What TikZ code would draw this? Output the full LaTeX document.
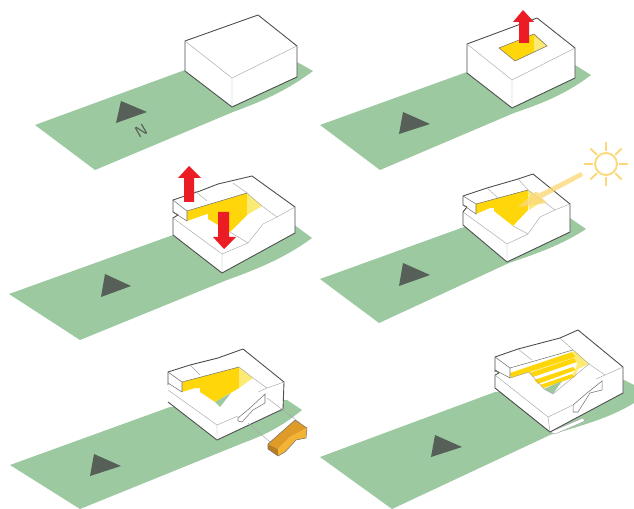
\documentclass[tikz,border=0pt]{standalone}
\usepackage{xcolor}
\usetikzlibrary{calc}
\definecolor{lawngreen}{HTML}{9DC9A1}
\definecolor{markgray}{HTML}{565F58}
\definecolor{voidyellow}{HTML}{FFD60A}
\definecolor{paleyellow}{HTML}{FBEA73}
\definecolor{sunyellow}{HTML}{FBD97A}
\definecolor{liftred}{HTML}{EC1C24}
\definecolor{blocktop}{HTML}{E09A28}
\definecolor{blockside}{HTML}{B97C1E}
\definecolor{blockface}{HTML}{F4B433}
\begin{document}
\begin{tikzpicture}[
  x=0.02cm, y=-0.02cm,
  lawn/.style={fill=lawngreen, draw=none},
  northmark/.style={fill=markgray, draw=none},
  mass/.style={fill=white, draw=black!70, line width=0.5pt, line join=round},
  hairline/.style={draw=black!35, line width=0.25pt},
  edgeline/.style={draw=black!55, line width=0.3pt},
  voidfill/.style={fill=voidyellow, draw=none},
  voidpale/.style={fill=paleyellow, draw=none},
  lift/.style={fill=liftred, draw=none},
  sunray/.style={draw=sunyellow, line width=1.1pt},
]
\useasboundingbox (0,0) rectangle (634,509);

\fill[lawn] (35,125) -- (185,70) -- (297,62) -- (313,71) .. controls (285,92) and (260,102) .. (233,112) -- (95,170) -- cycle;
\fill[northmark] (121,101) -- (147,112) -- (116,123) -- cycle;
\node[rotate=30, text=markgray, font=\sffamily\small, inner sep=0pt] (north) at (141,131) {N};
\draw[mass, fill=white] (185,41) -- (258,15) -- (297,46) -- (297,77) -- (232,107) -- (185,71) -- cycle;
\draw[hairline] (185,41) -- (232,78) -- (297,46) (232,78) -- (232,107);

\fill[lawn] (320,125) -- (467,72) -- (575,65) -- (591,75) .. controls (565,95) and (540,104) .. (514,113) -- (380,170) -- cycle;
\fill[northmark] (403,112) -- (430,124) -- (399,134) -- cycle;
\draw[mass] (467,44) -- (537,18) -- (575,48) -- (575,78) -- (512,108) -- (467,73) -- cycle;
\draw[hairline] (467,44) -- (512,80) -- (575,48) (512,80) -- (512,108);
\fill[voidfill] (499,48) -- (534,34) -- (547,46) -- (515,61) -- cycle;
\fill[voidpale] (534,36) -- (547,46) -- (534,52) -- cycle;
\draw[edgeline] (499,48) -- (534,34) -- (547,46) -- (515,61) -- cycle;
\fill[lift] (519,43) -- (519,22) -- (513,22) -- (523,10) -- (534,22) -- (529,22) -- (529,43) -- cycle;

\fill[lawn] (9,294) -- (173,235) -- (293,224) -- (312,238) .. controls (285,258) and (255,270) .. (227,280) -- (80,340) -- cycle;
\fill[northmark] (105,274) -- (131,286) -- (101,297) -- cycle;
\draw[mass] (173,200) -- (200,191) -- (218,184) -- (252,176) -- (295,207) -- (295,233) -- (222,273) -- (173,235) -- (173,218) -- (178,215) -- (173,212) -- cycle;
\fill[voidfill] (187,211) -- (247,193) -- (247,215) -- (230,232) -- (208,219) -- (208,214) -- (204,215) -- (187,221) -- cycle;
\fill[voidpale] (247,193) -- (262,206) -- (247,215) -- cycle;
\draw[edgeline] (173,200) -- (187,211) -- (247,193) (173,212) -- (187,221) -- (187,211);
\draw[hairline] (195,191) -- (207,201) (233,183) -- (247,193) -- (262,206) -- (277,217) -- (295,207);
\draw[hairline] (173,218) -- (222,254) -- (222,273) (222,254) -- (248,243) -- (263,224) -- (277,217) (230,232) -- (248,243);
\fill[lift] (184,202) -- (184,178) -- (178,178) -- (189,166) -- (201,178) -- (194,178) -- (194,202) -- cycle;
\fill[lift] (218,212) -- (229,212) -- (229,237) -- (236,237) -- (224,249) -- (213,237) -- (218,237) -- cycle;

\fill[lawn] (320,279) -- (464,227) -- (570,218) -- (586,229) .. controls (560,246) and (535,254) .. (509,263) -- (379,323) -- cycle;
\fill[northmark] (403,263) -- (430,275) -- (399,286) -- cycle;
\draw[mass] (463,196) -- (487,188) -- (518,179) -- (533,174) -- (570,204) -- (570,232) -- (507,262) -- (463,225) -- (463,212) -- (467,207) -- (463,205) -- cycle;
\fill[voidfill] (476,204) -- (528,190) -- (528,210) -- (513,226) -- (494,211) -- (494,208) -- (490,208) -- (476,214) -- cycle;
\fill[voidpale] (528,190) -- (543,201) -- (529,210) -- cycle;
\draw[edgeline] (463,196) -- (476,204) -- (528,190) (463,205) -- (476,214) -- (476,204);
\draw[hairline] (487,188) -- (498,198) (518,179) -- (528,190) -- (543,201) -- (555,210) -- (570,204);
\draw[hairline] (463,212) -- (507,244) -- (507,262) (507,244) -- (528,234) -- (540,217) -- (555,210) (513,226) -- (528,234);
\fill[sunyellow, opacity=0.8] (581,172) -- (583,176) -- (542,198) -- (547,203) -- (518,207) -- (535,192) -- (540,193) -- cycle;
\coordinate (sun) at (606,164);
\draw[sunray] (sun) circle (11);
\foreach \ang in {0,45,...,315} {
  \draw[sunray] ($(sun)+(\ang:13)$) -- ($(sun)+(\ang:22)$);
}

\fill[lawn] (10,465) -- (170,407) -- (287,400) -- (302,410) .. controls (280,428) and (262,436) .. (243,443) -- (80,509) -- cycle;
\fill[northmark] (94,454) -- (121,466) -- (90,476) -- cycle;
\fill[white] (168,372) -- (190,365) -- (218,358) -- (243,349) -- (284,382) -- (283,409) -- (217,440) -- (168,402) -- cycle;
\fill[voidfill] (182,382) -- (239,367) -- (239,388) -- (215,402) -- (200,392) -- (200,388) -- (195,388) -- (182,392) -- cycle;
\fill[voidpale] (239,367) -- (253,378) -- (239,388) -- cycle;
\fill[lawn] (215,402) -- (231,393) -- (220,407) -- cycle;
\draw[mass, fill=none] (168,385) -- (168,372) -- (190,365) -- (218,358) -- (243,349) -- (284,382) -- (283,409) -- (217,440) -- (168,402);
\draw[edgeline] (168,372) -- (182,382) -- (239,367) (168,383) -- (182,392) -- (182,382);
\draw[hairline] (190,365) -- (200,375) (239,367) -- (253,378) -- (267,388) -- (284,382);
\draw[hairline] (168,390) -- (217,425) -- (217,440) (217,425) -- (238,416) (267,388) -- (258,392);
\fill[white] (238,418) -- (250,408) -- (265,394) -- (265,403) -- (253,410) -- (242,422) -- (238,421) -- cycle;
\draw[edgeline] (238,418) -- (250,408) -- (265,394) -- (265,403) -- (253,410) -- (242,422) -- (238,421) -- cycle;
\draw[hairline] (267,398) -- (300,423) (248,423) -- (270,442);
\fill[blocktop] (268,444) -- (295,420) -- (307,428) -- (290,437) -- (278,449) -- cycle;
\fill[blockside] (268,444) -- (278,449) -- (278,456) -- (268,449) -- cycle;
\fill[blockface] (278,449) -- (290,437) -- (307,428) -- (306,438) -- (296,440) -- (285,452) -- (278,456) -- cycle;
\draw[edgeline] (268,444) -- (295,420) -- (307,428) -- (306,438) -- (296,440) -- (285,452) -- (278,456) -- (268,449) -- cycle;

\fill[lawn] (320,457) -- (495,392) -- (624,380) -- (634,385) -- (634,403) .. controls (610,418) and (580,426) .. (550,435) -- (392,509) -- cycle;
\fill[northmark] (435,435) -- (462,447) -- (431,457) -- cycle;
\draw[hairline, fill=white] (550,432) -- (555,434) -- (585,421) -- (583,418) -- cycle;
\fill[white] (495,357) -- (518,349) -- (560,338) -- (578,330) -- (623,367) -- (623,393) -- (550,432) -- (495,388) -- cycle;
\fill[voidfill] (510,373) -- (572,352) -- (576,357) -- (511,378) -- cycle;
\fill[voidfill] (529,373) -- (574,358) -- (577,362) -- (533,377) -- cycle;
\fill[voidfill] (534,380) -- (573,367) -- (576,370) -- (538,384) -- cycle;
\fill[voidfill] (540,385) -- (572,374) -- (575,377) -- (544,388) -- cycle;
\fill[voidpale] (572,352) -- (575,351) -- (589,364) -- (578,369) -- (575,377) -- (572,374) -- (576,370) -- (577,362) -- (574,358) -- (576,357) -- cycle;
\fill[lawn] (544,389) -- (562,381) -- (553,394) -- cycle;
\draw[mass, fill=none] (495,372) -- (495,357) -- (518,349) -- (560,338) -- (578,330) -- (623,367) -- (623,393) -- (550,432) -- (495,388) -- (495,375) -- (499,373) -- (495,370);
\draw[edgeline] (495,357) -- (510,368) -- (573,350) (495,370) -- (510,378) -- (510,368);
\draw[hairline] (518,349) -- (532,360) (560,338) -- (573,350) -- (589,364) -- (605,375) -- (623,367);
\draw[hairline] (510,378) -- (529,372) -- (544,389) -- (553,394) -- (589,364);
\draw[hairline] (495,375) -- (548,417) -- (550,432) (548,417) -- (573,405) (605,375) -- (596,379);
\fill[white] (573,405) -- (587,393) -- (602,381) -- (602,390) -- (590,393) -- (578,412) -- (573,412) -- cycle;
\draw[edgeline] (573,405) -- (587,393) -- (602,381) -- (602,390) -- (590,393) -- (578,412) -- (573,412) -- cycle;

\end{tikzpicture}
\end{document}
